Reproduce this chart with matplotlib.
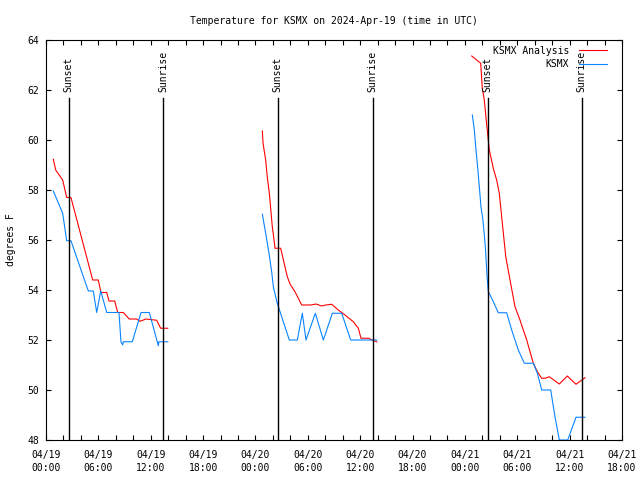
import numpy as np
import matplotlib
matplotlib.use('Agg')
import matplotlib.pyplot as plt

plt.rcParams['font.family'] = 'DejaVu Sans Mono'
plt.rcParams['axes.linewidth'] = 0.8

# =============================================================================
# DATA  (hours since 2024-04-19 00:00 UTC, degrees F)
# =============================================================================

# KSMX Analysis (red), three runs
ana_h1 = [0.84, 1.11, 1.91, 2.37, 2.86, 5.35, 5.99, 6.30, 6.96, 7.22, 7.87, 8.22,
          8.86, 9.54, 10.39, 10.77, 11.46, 12.68, 13.14, 13.95]
ana_t1 = [59.23, 58.8, 58.4, 57.7, 57.7, 54.4, 54.4, 53.9, 53.9, 53.56, 53.56, 53.1,
          53.1, 52.84, 52.84, 52.75, 52.84, 52.79, 52.47, 52.47]
ana_h2 = [24.79, 24.87, 25.17, 25.36, 25.59, 25.78, 25.93, 26.13, 26.24, 26.89, 27.65,
          27.96, 28.53, 29.30, 30.33, 30.94, 31.59, 32.08, 32.74, 33.49, 34.26, 35.21,
          35.79, 36.09, 37.01, 37.32, 37.89]
ana_t2 = [60.36, 59.87, 59.2, 58.5, 57.87, 57.13, 56.53, 56.0, 55.67, 55.67, 54.53,
          54.24, 53.93, 53.4, 53.4, 53.44, 53.36, 53.4, 53.43, 53.2, 53.0, 52.73,
          52.47, 52.07, 52.07, 52.0, 51.93]
ana_h3 = [48.78, 49.81, 49.99, 50.22, 50.50, 50.80, 51.25, 51.64, 51.94, 52.29, 52.68,
          53.17, 53.74, 54.31, 55.08, 55.84, 56.30, 56.80, 57.18, 57.67, 58.82, 59.73,
          60.73, 61.76]
ana_t3 = [63.36, 63.07, 62.07, 61.6, 60.6, 59.6, 58.87, 58.4, 57.87, 56.67, 55.33,
          54.4, 53.33, 52.8, 52.0, 51.07, 50.73, 50.47, 50.47, 50.53, 50.24, 50.56,
          50.23, 50.49]

# KSMX observations (blue), three runs
obs_h1 = [0.84, 1.91, 2.37, 2.86, 4.85, 5.42, 5.81, 6.27, 6.96, 8.36, 8.59, 8.79,
          8.86, 9.89, 10.89, 11.84, 12.75, 12.87, 12.93, 13.95]
obs_t1 = [57.96, 57.07, 55.97, 55.97, 53.96, 53.96, 53.1, 53.96, 53.1, 53.1, 51.93,
          51.8, 51.93, 51.93, 53.1, 53.1, 51.93, 51.77, 51.93, 51.93]
obs_h2 = [24.79, 25.17, 25.55, 25.86, 26.05, 26.32, 26.50, 27.88, 28.80, 29.37, 29.79,
          30.86, 31.78, 32.81, 33.88, 34.91, 37.89]
obs_t2 = [57.03, 56.27, 55.47, 54.73, 54.13, 53.73, 53.47, 52.0, 52.0, 53.07, 52.0,
          53.07, 52.0, 53.07, 53.07, 52.0, 52.0]
obs_h3 = [48.85, 49.08, 49.27, 49.47, 49.65, 49.84, 50.04, 50.19, 50.34, 50.45, 50.53,
          50.68, 51.07, 51.83, 52.79, 53.36, 54.12, 54.81, 55.84, 56.30, 56.80, 57.83,
          58.32, 58.82, 59.78, 60.73, 61.76]
obs_t3 = [61.0, 60.4, 59.6, 58.87, 58.13, 57.33, 56.87, 56.33, 55.73, 55.07, 54.6,
          53.93, 53.67, 53.09, 53.09, 52.4, 51.6, 51.07, 51.07, 50.67, 50.0, 50.0,
          48.93, 48.0, 48.0, 48.91, 48.91]

sunset_h = [2.58, 26.55, 50.6]
sunrise_h = [13.45, 37.43, 61.38]

xtick_h = list(range(0, 67, 6))
xtick_labels = ['04/19\n00:00', '04/19\n06:00', '04/19\n12:00', '04/19\n18:00',
                '04/20\n00:00', '04/20\n06:00', '04/20\n12:00', '04/20\n18:00',
                '04/21\n00:00', '04/21\n06:00', '04/21\n12:00', '04/21\n18:00']


def join_runs(*runs):
    out = []
    for r in runs:
        out += list(r) + [np.nan]
    return np.array(out[:-1])


ana_h = join_runs(ana_h1, ana_h2, ana_h3)
ana_t = join_runs(ana_t1, ana_t2, ana_t3)
obs_h = join_runs(obs_h1, obs_h2, obs_h3)
obs_t = join_runs(obs_t1, obs_t2, obs_t3)

# =============================================================================
# PLOT
# =============================================================================

fs = 7
fig = plt.figure(figsize=(6.4, 4.8), dpi=100)
ax = fig.add_axes([46/640, 40/480, 576/640, 400/480])

ax.plot(ana_h, ana_t, color='#ff0000', lw=0.8, label='KSMX Analysis')
ax.plot(obs_h, obs_t, color='#0a84ff', lw=0.8, label='KSMX')

for h in sunset_h:
    ax.plot([h, h], [48, 61.68], color='k', lw=1.0)
    ax.text(h, 61.92, 'Sunset', rotation=90, ha='center', va='bottom', fontsize=fs)
for h in sunrise_h:
    ax.plot([h, h], [48, 61.68], color='k', lw=1.0)
    ax.text(h, 61.92, 'Sunrise', rotation=90, ha='center', va='bottom', fontsize=fs)

ax.set_xlim(0, 66)
ax.set_ylim(48, 64)
ax.set_xticks(xtick_h)
ax.set_xticklabels(xtick_labels, fontsize=fs, linespacing=1.45)
ax.set_xticks(range(0, 67, 2), minor=True)
ax.set_yticks(range(48, 65, 2))
ax.tick_params(axis='y', labelsize=fs, pad=5)
ax.tick_params(axis='x', pad=7)
ax.tick_params('both', which='both', direction='in', length=3.6, width=0.8,
               top=True, right=True)

ax.set_title('Temperature for KSMX on 2024-Apr-19 (time in UTC)', fontsize=fs, pad=11.5)
fig.text(11/640, 0.5, 'degrees F', rotation=90, ha='center', va='center', fontsize=fs)

leg = ax.legend(loc='upper right', bbox_to_anchor=(0.981, 0.995), frameon=False,
                markerfirst=False, fontsize=fs, handlelength=2.9, handletextpad=1.0,
                labelspacing=0.35, borderaxespad=0.0)
for t in leg.get_texts():
    t.set_ha('right')

plt.savefig('out.png', dpi=100)
